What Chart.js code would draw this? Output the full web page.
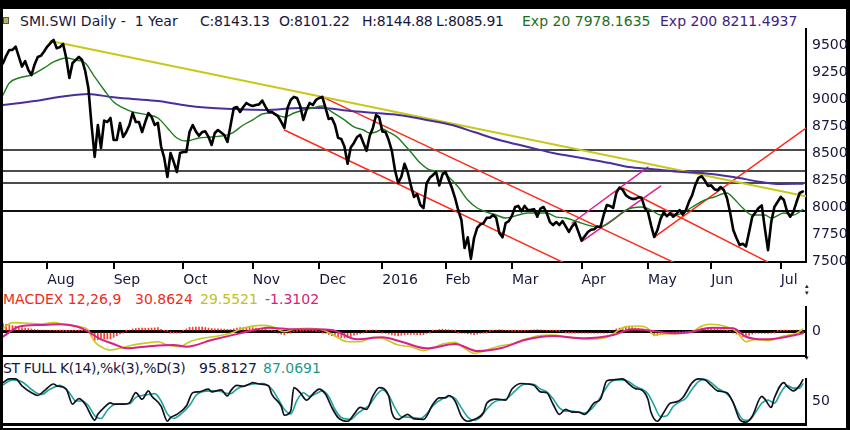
<!DOCTYPE html>
<html>
<head>
<meta charset="utf-8">
<script src="https://cdn.jsdelivr.net/npm/chart.js@4.4.0/dist/chart.umd.min.js"></script>
<style>
    body { margin: 0; width: 850px; height: 430px; background: #000; overflow: hidden; position: relative; font-family: 'DejaVu Sans', sans-serif; }
    #sheet { position: absolute; left: 3px; top: 9px; width: 843px; height: 419px; background: #fff; }
    canvas { position: absolute; left: 3px; }
    .lbl { position: absolute; font-size: 14px; line-height: 16px; white-space: pre; color: #17173c; }
    .num { letter-spacing: -0.3px; }
    .icon { position: absolute; left: 3px; top: 17px; width: 4px; height: 5px; background: #b9b25c; border: 1px solid #555; }
    .arrow { position: absolute; left: 805px; font-size: 7px; line-height: 7px; color: #222; }
</style>
</head>
<body>
<div id="sheet"></div>

<!-- header texts -->
<div class="icon"></div>
<div class="lbl" style="left:20px;top:13px">SMI.SWI Daily -  1 Year</div>
<div class="lbl num" style="left:200px;top:13px">C:8143.13</div>
<div class="lbl num" style="left:279px;top:13px">O:8101.22</div>
<div class="lbl num" style="left:362px;top:13px">H:8144.88</div>
<div class="lbl num" style="left:436px;top:13px">L:8085.91</div>
<div class="lbl" style="left:522px;top:13px;color:#1e6e1e">Exp 20 7978.1635</div>
<div class="lbl" style="left:660px;top:13px;color:#3c2282">Exp 200 8211.4937</div>

<div class="lbl" style="left:3px;top:291px;color:#ee2b1a">MACDEX 12,26,9</div>
<div class="lbl" style="left:135px;top:291px;color:#ee2b1a">30.8624</div>
<div class="lbl" style="left:200px;top:291px;color:#c2c21a">29.5521</div>
<div class="lbl" style="left:265px;top:291px;color:#d1227e">-1.3102</div>

<div class="lbl" style="left:3px;top:360px;letter-spacing:-0.4px">ST FULL K(14),%k(3),%D(3)</div>
<div class="lbl" style="left:199px;top:360px">95.8127</div>
<div class="lbl" style="left:263px;top:360px;color:#1d9a8c">87.0691</div>

<div class="arrow" style="top:283px">▴<br>▾</div>
<div class="arrow" style="top:355px">▾</div>

<canvas id="mainChart" style="top:28px" width="845" height="264"></canvas>
<canvas id="macdChart" style="top:306px" width="845" height="52"></canvas>
<canvas id="stochChart" style="top:378px" width="845" height="48"></canvas>

<script>
// =====================================================
// Data (x = trading session 0..253)
// =====================================================
const LAST_SESSION = 254;

const monthLabels = ['Aug', 'Sep', 'Oct', 'Nov', 'Dec', '2016', 'Feb', 'Mar', 'Apr', 'May', 'Jun', 'Jul'];
const monthStarts = [14, 35, 57, 79, 100, 120, 140, 161, 183, 204, 224, 246];

const priceTicks = [7500, 7750, 8000, 8250, 8500, 8750, 9000, 9250, 9500];

// daily close, one value per session
const closes = [
    9330, 9400, 9454, 9454, 9485, 9392, 9300, 9350, 9270, 9220,
    9320, 9389, 9400, 9440, 9485, 9518, 9546, 9470, 9480, 9510,
    9380, 9194, 9333, 9361, 9389, 9361, 9260, 9102, 8760, 8463,
    8759, 8546, 8800, 8787, 8824, 8620, 8620, 8778, 8648, 8694,
    8759, 8870, 8787, 8787, 8694, 8787, 8870, 8833, 8759, 8778,
    8560, 8454, 8278, 8500, 8417, 8324, 8500, 8509, 8509, 8694,
    8759, 8700, 8660, 8694, 8700, 8650, 8574, 8685, 8713, 8690,
    8667, 8602, 8759, 8917, 8926, 8880, 8926, 8963, 8944, 8935,
    8944, 8950, 8985, 8930, 8880, 8880, 8860, 8840, 8787, 8732,
    8917, 8991, 9019, 9009, 8935, 8806, 8900, 8963, 8944, 8991,
    9009, 9019, 8920, 8815, 8824, 8760, 8640, 8630, 8560, 8400,
    8550, 8593, 8648, 8667, 8593, 8520, 8660, 8732, 8850, 8830,
    8700, 8694, 8620, 8520, 8340, 8222, 8280, 8400, 8324, 8200,
    8093, 8120, 8020, 7990, 8220, 8270, 8296, 8324, 8200, 8300,
    8324, 8250, 8176, 8083, 7970, 7880, 7620, 7720, 7520, 7713,
    7806, 7840, 7850, 7900, 7900, 7926, 7900, 7760, 7720, 7852,
    7870, 7920, 8000, 8010, 7960, 8010, 7972, 7975, 7980, 7910,
    7985, 8000, 7944, 7860, 7833, 7861, 7833, 7870, 7820, 7769,
    7820, 7852, 7770, 7690, 7730, 7769, 7790, 7795, 7820, 7815,
    7926, 8019, 8010, 7991, 8130, 8180, 8160, 8110, 8088, 8075,
    8075, 8090, 8085, 7991, 7954, 7830, 7722, 7787, 7890, 7950,
    7915, 7944, 7910, 7935, 7972, 7930, 7970, 8050, 8110, 8204,
    8270, 8285, 8245, 8195, 8200, 8165, 8155, 8185, 8157, 8083,
    7950, 7787, 7713, 7648, 7660, 7635, 7769, 7910, 7950, 7990,
    8015, 7800, 7600, 7860, 8000, 8046, 8093, 8065, 7960, 7910,
    7954, 8046, 8130, 8143
];

// [session, value]
const ema20 = [
    [0, 9037], [2, 9148], [5, 9194], [9, 9222], [13, 9287], [16, 9343], [20, 9380], [23, 9361],
    [26, 9333], [29, 9204], [32, 9083], [35, 8972], [38, 8917], [41, 8880], [46, 8852], [49, 8824],
    [52, 8732], [55, 8639], [58, 8611], [62, 8639], [66, 8648], [71, 8667], [73, 8694], [76, 8759],
    [79, 8806], [82, 8861], [85, 8870], [89, 8833], [92, 8870], [95, 8898], [98, 8917], [101, 8935],
    [104, 8880], [108, 8806], [111, 8741], [114, 8713], [116, 8685], [118, 8694], [120, 8722], [122, 8694],
    [125, 8639], [127, 8574], [129, 8509], [132, 8407], [135, 8343], [139, 8324], [141, 8278], [144, 8185],
    [147, 8065], [150, 7991], [153, 7954], [156, 7926], [159, 7898], [163, 7926], [166, 7944], [172, 7944],
    [175, 7907], [178, 7898], [182, 7861], [185, 7833], [188, 7815], [191, 7840], [193, 7880], [197, 7972],
    [202, 8000], [205, 7972], [208, 7926], [212, 7926], [215, 7944], [218, 8000], [222, 8065], [225, 8093],
    [229, 8130], [231, 8083], [234, 7991], [237, 7926], [241, 7926], [243, 7898], [247, 7944], [250, 7926],
    [253, 7978]
];

const ema200 = [
    [0, 8944], [10, 8981], [20, 9028], [27, 9046], [34, 9019], [41, 9000], [49, 8981], [57, 8944],
    [62, 8926], [73, 8907], [83, 8898], [94, 8917], [101, 8917], [110, 8889], [118, 8870], [125, 8852],
    [129, 8833], [134, 8806], [142, 8759], [149, 8694], [157, 8620], [166, 8556], [174, 8500], [183, 8454],
    [192, 8407], [198, 8370], [205, 8352], [215, 8324], [221, 8315], [231, 8278], [240, 8231], [246, 8213],
    [253, 8215]
];

// drawn support / resistance levels
const levels = [8528, 8333, 8222, 7963];

// drawn trend lines, [session, value] end points
const yellowTrend = [[15, 9537], [254, 8100]];
const redTrends = [
    [[101, 9019], [212, 7490]],
    [[89, 8713], [177, 7490]],
    [[196, 8176], [242, 7490]],
    [[206, 7722], [254, 8730]]
];
const magentaTrends = [
    [[180, 7852], [204, 8370]],
    [[183, 7680], [208, 8194]]
];

// MACD panel
const macdLine = [
    [0, 42], [3, 113], [8, 105], [12, 96], [16, 113], [20, 84], [24, 63], [27, 21], [28, -60], [29, -125],
    [31, -188], [34, -229], [37, -208], [41, -166], [46, -138], [49, -125], [52, -166], [56, -188], [59, -125],
    [63, -83], [68, -54], [72, -21], [75, 29], [78, 63], [82, 79], [85, 63], [89, 0], [92, 29], [97, 42],
    [101, 21], [104, -29], [109, -125], [113, -125], [117, -71], [120, -83], [125, -166], [129, -188],
    [133, -238], [139, -154], [143, -133], [146, -208], [149, -271], [153, -229], [157, -179], [161, -154],
    [165, -96], [169, -54], [174, -42], [179, -71], [185, -96], [191, -71], [194, 0], [197, 63], [201, 71],
    [204, 42], [206, -42], [209, -29], [214, -21], [218, 0], [221, 71], [224, 92], [228, 71], [232, 0],
    [235, -125], [238, -96], [242, -113], [247, -54], [251, -21], [253, 30]
];
const signalLine = [
    [0, -63], [5, 63], [12, 84], [18, 92], [25, 42], [31, -96], [35, -154], [39, -208], [47, -179],
    [54, -166], [58, -188], [66, -104], [75, -21], [84, 50], [92, 29], [99, 29], [104, 21], [112, -96],
    [120, -71], [126, -125], [134, -208], [143, -154], [150, -242], [158, -200], [165, -104], [174, -54],
    [184, -83], [193, -42], [199, 29], [205, 13], [212, -21], [218, 0], [224, 50], [231, 42], [235, -63],
    [241, -96], [248, -63], [253, -21]
];
// histogram, one bar per session
const macdHist = [
    100, 92, 84, 76, 68, 60, 52, 46, 40, 34,
    28, 24, 20, 18, 18, 16, 14, 10, 8, 6,
    4, 6, 8, 10, 12, 12, 12, 8, -60, -110,
    -100, -92, -90, -90, -89, -70, -50, -28, -10, 5,
    20, 34, 40, 44, 44, 44, 44, 46, 48, 50,
    30, 12, 4, -2, -6, -10, -10, 10, 35, 55,
    56, 57, 57, 57, 52, 46, 40, 36, 36, 34,
    32, 30, 29, 36, 44, 50, 52, 53, 53, 50,
    46, 42, 39, 30, 20, 13, 0, -15, -30, -40,
    -20, -8, 0, 4, 8, 10, 12, 13, 10, 6,
    0, -6, -20, -35, -50, -60, -70, -75, -78, -75,
    -60, -45, -35, -25, -10, 5, 15, 19, 10, 0,
    -12, -20, -30, -40, -48, -51, -45, -40, -36, -33,
    -34, -36, -38, -38, -20, -5, 10, 20, 28, 31,
    28, 24, 21, 5, -8, -18, -18, -25, -32, -36,
    -30, -20, -10, -4, 4, 12, 20, 26, 22, 16,
    10, 6, 6, 7, 8, 8, 14, 20, 24, 26,
    22, 18, 15, 12, 12, 8, 4, 0, -3, -6,
    -8, -10, -12, -13, -13, -13, -14, -15, -16, -16,
    -16, -16, 0, 20, 35, 45, 52, 58, 55, 50,
    46, 42, 35, 28, 22, -10, -52, -45, -35, -24,
    -15, -8, -4, -2, 0, 0, 0, 0, 0, 15,
    30, 46, 46, 44, 42, 36, 30, 26, 23, 10,
    0, -15, -30, -48, -62, -62, -45, -30, -16, -18,
    -20, -22, -23, -15, -5, 3, 8, 12, 14, 16,
    18, 19, 10, -1
];

// Stochastic panel
const stochK = [
    [0, 90], [2, 98], [4, 98], [6, 83], [9, 68], [11, 62], [13, 72], [16, 87], [17, 83], [20, 76],
    [22, 43], [23, 50], [24, 55], [26, 43], [28, 17], [29, 8], [30, 21], [32, 36], [34, 46], [35, 43],
    [38, 43], [40, 46], [42, 68], [44, 54], [46, 72], [47, 61], [50, 39], [52, 6], [53, 14], [55, 21],
    [58, 39], [60, 68], [62, 70], [65, 76], [66, 70], [69, 74], [71, 61], [72, 72], [74, 84], [76, 82],
    [78, 87], [79, 90], [81, 87], [84, 83], [85, 65], [88, 39], [89, 19], [91, 28], [92, 79], [94, 68],
    [96, 52], [98, 65], [100, 76], [102, 65], [104, 36], [106, 14], [109, 6], [111, 21], [113, 36], [115, 32],
    [117, 61], [119, 79], [122, 61], [123, 25], [125, 10], [128, 21], [130, 11], [133, 10], [136, 43], [138, 57],
    [140, 57], [141, 62], [143, 50], [145, 17], [147, 6], [149, 10], [152, 25], [153, 45], [156, 54], [159, 52],
    [161, 76], [164, 88], [166, 87], [168, 84], [170, 70], [172, 68], [174, 43], [176, 21], [178, 32], [180, 26],
    [182, 26], [184, 21], [187, 46], [189, 54], [191, 94], [193, 96], [196, 98], [198, 87], [200, 77], [202, 74],
    [204, 54], [205, 25], [207, 6], [209, 25], [211, 45], [213, 48], [215, 57], [218, 90], [220, 98], [222, 96],
    [224, 84], [226, 72], [229, 68], [231, 46], [233, 10], [235, 4], [237, 17], [240, 60], [241, 54], [243, 36],
    [244, 57], [247, 90], [248, 82], [250, 72], [252, 84], [253, 96]
];
const stochD = [
    [0, 85], [3, 96], [6, 92], [9, 75], [12, 64], [15, 76], [18, 84], [21, 68], [23, 50], [25, 50],
    [27, 40], [29, 18], [31, 12], [33, 30], [35, 42], [37, 44], [40, 44], [42, 58], [44, 62], [46, 64],
    [48, 66], [50, 50], [52, 22], [54, 12], [56, 20], [59, 40], [61, 62], [63, 70], [66, 72], [68, 72],
    [70, 68], [72, 66], [74, 76], [76, 82], [79, 87], [82, 88], [85, 76], [87, 55], [89, 32], [91, 22],
    [93, 52], [95, 68], [97, 60], [99, 66], [101, 72], [103, 60], [105, 32], [107, 14], [110, 10], [112, 22],
    [114, 32], [116, 42], [118, 62], [120, 74], [122, 62], [124, 35], [126, 16], [128, 15], [130, 14], [132, 12],
    [134, 22], [136, 40], [139, 55], [141, 60], [143, 56], [145, 35], [147, 15], [149, 8], [151, 15], [153, 32],
    [155, 46], [157, 52], [159, 54], [162, 72], [164, 84], [166, 87], [168, 86], [170, 76], [172, 70], [174, 55],
    [176, 35], [178, 28], [180, 28], [182, 26], [184, 24], [186, 32], [188, 48], [190, 70], [192, 90], [194, 96],
    [196, 96], [198, 92], [200, 82], [202, 76], [204, 66], [206, 40], [208, 16], [210, 18], [212, 38], [214, 48],
    [216, 56], [218, 76], [220, 92], [222, 97], [224, 90], [226, 78], [228, 70], [230, 58], [232, 32], [234, 10],
    [236, 8], [238, 25], [240, 45], [242, 52], [244, 45], [246, 68], [248, 84], [250, 78], [252, 78], [253, 87]
];

// =====================================================
// Helpers
// =====================================================
const pts = arr => arr.map(([x, y]) => ({ x, y }));
const perSession = arr => arr.map((y, x) => ({ x, y }));

// Force an axis box to a fixed size and drop the label padding
function fixBox(size) {
    return scale => {
        if (scale.isHorizontal()) scale.height = size; else scale.width = size;
        scale.paddingTop = scale.paddingBottom = scale.paddingLeft = scale.paddingRight = 0;
    };
}

function lineSet(data, color, width, order, smooth) {
    return {
        data: data,
        borderColor: color,
        borderWidth: width,
        order: order,
        pointRadius: 0,
        fill: false,
        cubicInterpolationMode: smooth ? 'monotone' : 'default',
        tension: 0
    };
}

const tickFont = { family: "'DejaVu Sans', sans-serif", size: 14 };
const tickColor = '#17173c';
const plainNumber = v => String(v); // no thousands separator on the axis

function baseOptions(xScale, yScale) {
    return {
        responsive: false,
        animation: false,
        devicePixelRatio: 1,
        events: [],
        layout: { padding: 0, autoPadding: false },
        plugins: { legend: { display: false }, tooltip: { enabled: false } },
        elements: { line: { borderJoinStyle: 'round', borderCapStyle: 'round' } },
        scales: { x: xScale, y: yScale }
    };
}

function panelX() {
    return {
        type: 'linear', min: 0, max: LAST_SESSION, offset: false,
        ticks: { display: false },
        grid: { display: false },
        border: { display: true, color: '#000', width: 2 },
        afterFit: fixBox(2)
    };
}

// Right-hand value axis shared by the three panels
function rightAxis(min, max, tickValues, gridOpts) {
    return {
        position: 'right', min: min, max: max,
        afterBuildTicks: scale => { scale.ticks = tickValues.map(v => ({ value: v })); },
        ticks: { font: tickFont, color: tickColor, padding: 6, callback: plainNumber },
        grid: Object.assign({ drawTicks: false, tickLength: 0 }, gridOpts),
        border: { display: true, color: '#000', width: 2 },
        afterFit: fixBox(42)
    };
}

// =====================================================
// Price panel
// =====================================================
const mainSets = [
    lineSet(perSession(closes), '#000', 2.6, 0, false),
    lineSet(pts(ema20), '#1f7d1f', 1.4, 1, true),
    lineSet(pts(ema200), '#4a2f9c', 2, 2, true),
    lineSet(pts(yellowTrend), '#c8c81a', 2, 3, false)
];
redTrends.forEach(t => mainSets.push(lineSet(pts(t), '#ff2a1a', 1.5, 4, false)));
magentaTrends.forEach(t => mainSets.push(lineSet(pts(t), '#e01e90', 1.5, 4, false)));
levels.forEach((v, i) => mainSets.push(
    lineSet([{ x: 0, y: v }, { x: LAST_SESSION, y: v }], '#111', i === levels.length - 1 ? 2 : 1.5, 5, false)
));

new Chart(document.getElementById('mainChart'), {
    type: 'line',
    data: { datasets: mainSets },
    options: baseOptions(
        {
            type: 'linear', min: 0, max: LAST_SESSION, offset: false,
            afterBuildTicks: scale => { scale.ticks = monthStarts.map(v => ({ value: v })); },
            ticks: {
                callback: (v, i) => monthLabels[i],
                align: 'start', autoSkip: false, maxRotation: 0,
                font: tickFont, color: tickColor, padding: 3
            },
            grid: { drawOnChartArea: false, drawTicks: true, tickLength: 7, color: '#000', lineWidth: 2 },
            border: { display: true, color: '#000', width: 2 },
            afterFit: fixBox(30)
        },
        rightAxis(7491, 9657, priceTicks, { display: false })
    )
});

// =====================================================
// MACD panel
// =====================================================
new Chart(document.getElementById('macdChart'), {
    type: 'line',
    data: {
        datasets: [
            lineSet(pts(signalLine), '#d8208a', 2, 0, true),
            lineSet(pts(macdLine), '#c8c81e', 1.6, 1, true),
            {
                type: 'bar',
                data: perSession(macdHist),
                backgroundColor: '#ff3a28',
                barThickness: 1,
                grouped: false,
                order: 2
            }
        ]
    },
    options: baseOptions(
        panelX(),
        rightAxis(-304, 321, [0], { color: '#000', lineWidth: 3 })
    )
});

// =====================================================
// Stochastic panel
// =====================================================
new Chart(document.getElementById('stochChart'), {
    type: 'line',
    data: {
        datasets: [
            lineSet(pts(stochK), '#111122', 1.7, 0, true),
            lineSet(pts(stochD), '#1fa596', 1.6, 1, true)
        ]
    },
    options: baseOptions(
        Object.assign(panelX(), { border: { display: true, color: '#000', width: 3 } }),
        rightAxis(0, 100, [50], { display: false })
    )
});
</script>
</body>
</html>
